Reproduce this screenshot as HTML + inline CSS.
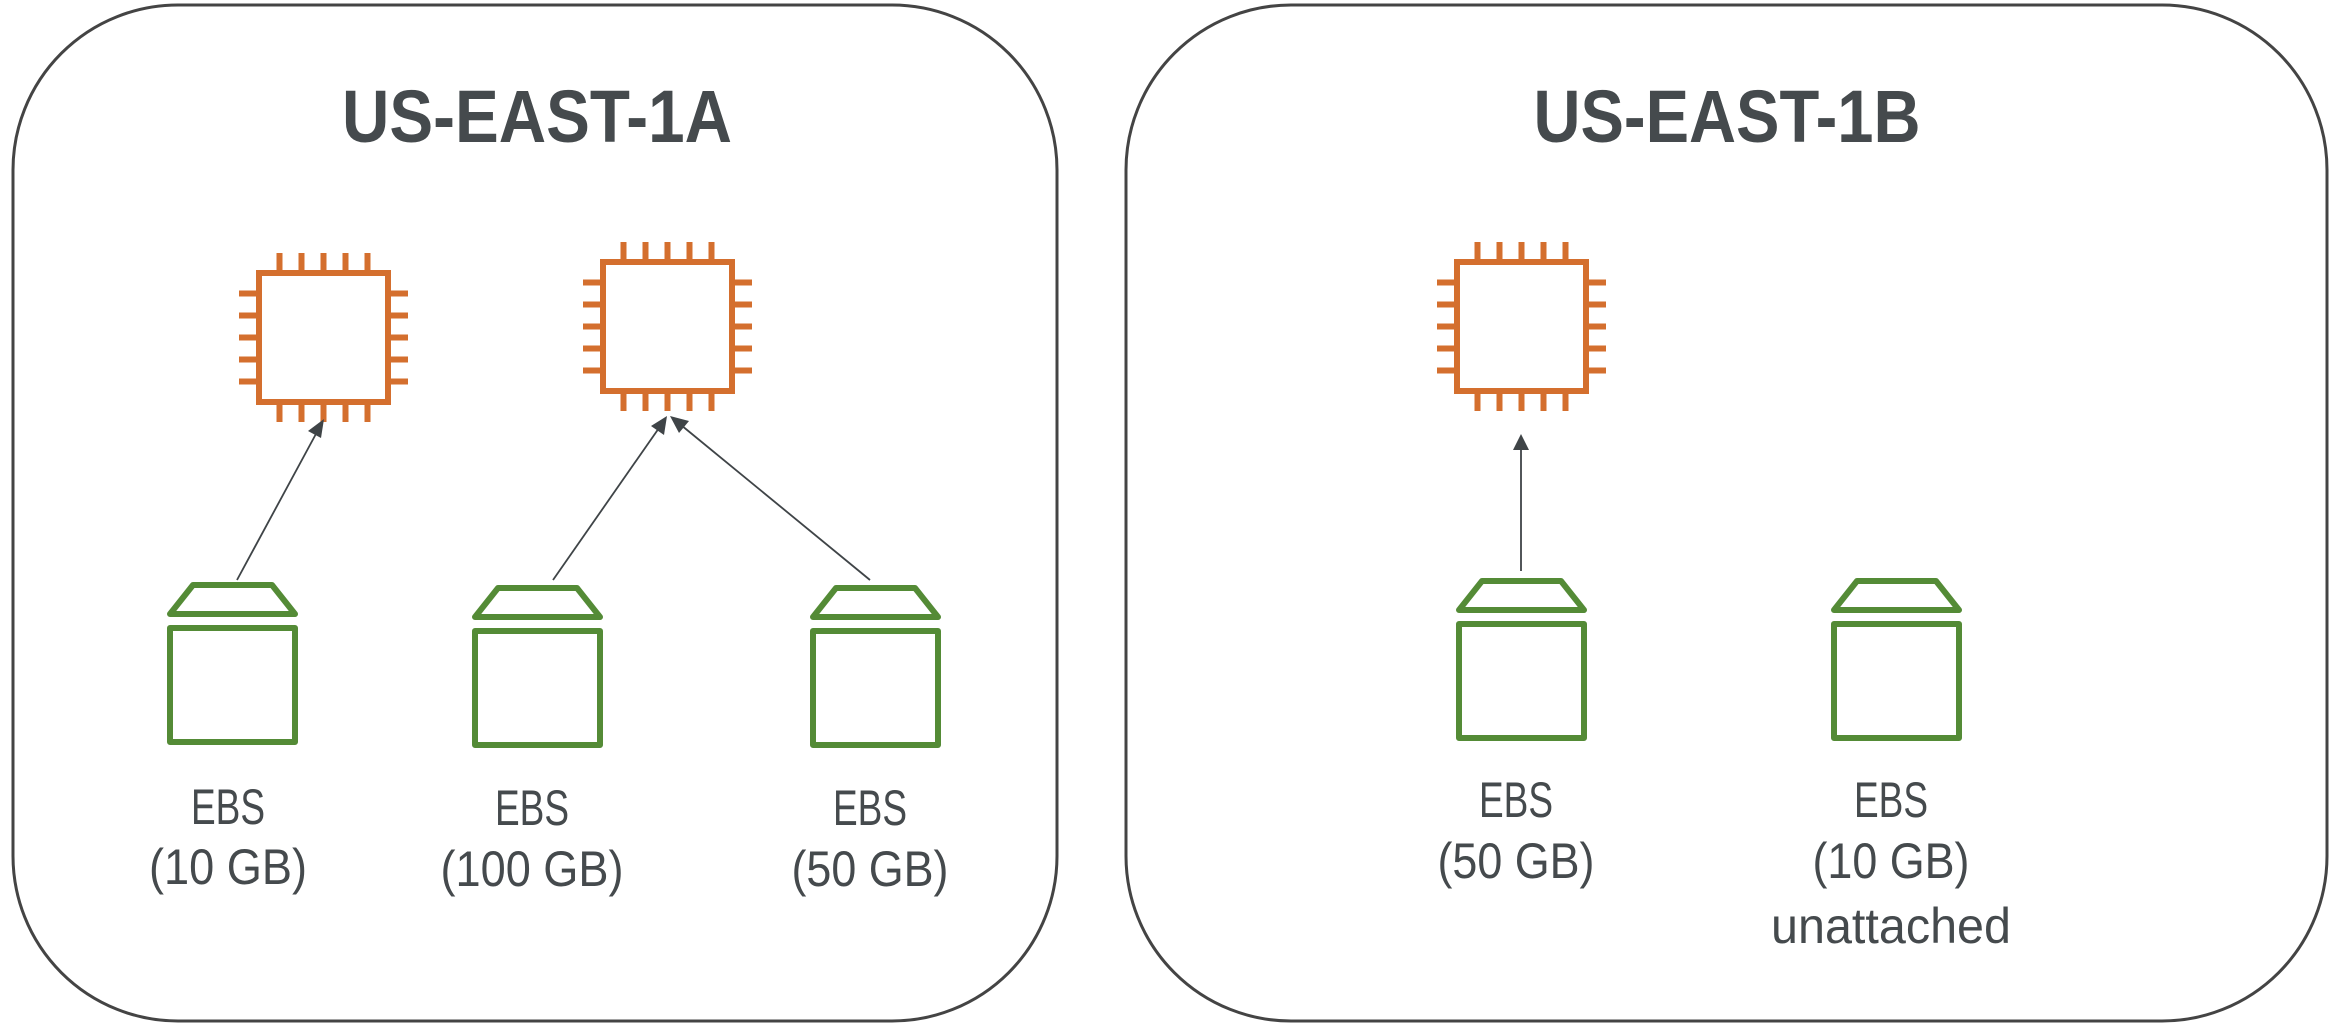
<!DOCTYPE html>
<html><head><meta charset="utf-8"><style>
html,body{margin:0;padding:0;background:#fff;}
svg{display:block;}
text{font-family:"Liberation Sans",sans-serif;fill:#454a4d;}
</style></head><body>
<svg width="2340" height="1030" viewBox="0 0 2340 1030" xmlns="http://www.w3.org/2000/svg">
<defs>
<g id="chip">
  <rect x="3" y="3" width="129" height="129" fill="none" stroke="#d46f2e" stroke-width="6"/>
  <g fill="#d46f2e">
    <rect x="20.5" y="-17" width="6" height="17"/><rect x="42.5" y="-17" width="6" height="17"/><rect x="64.5" y="-17" width="6" height="17"/><rect x="86.5" y="-17" width="6" height="17"/><rect x="108.5" y="-17" width="6" height="17"/>
    <rect x="20.5" y="135" width="6" height="17"/><rect x="42.5" y="135" width="6" height="17"/><rect x="64.5" y="135" width="6" height="17"/><rect x="86.5" y="135" width="6" height="17"/><rect x="108.5" y="135" width="6" height="17"/>
    <rect x="-17" y="20.5" width="17" height="6"/><rect x="-17" y="42.5" width="17" height="6"/><rect x="-17" y="64.5" width="17" height="6"/><rect x="-17" y="86.5" width="17" height="6"/><rect x="-17" y="108.5" width="17" height="6"/>
    <rect x="135" y="20.5" width="17" height="6"/><rect x="135" y="42.5" width="17" height="6"/><rect x="135" y="64.5" width="17" height="6"/><rect x="135" y="86.5" width="17" height="6"/><rect x="135" y="108.5" width="17" height="6"/>
  </g>
</g>
<g id="ebs" fill="none" stroke="#548b36" stroke-width="6" stroke-linejoin="round">
  <polygon points="26,3 105,3 128,32 3,32"/>
  <rect x="3" y="46" width="125" height="114"/>
</g>
</defs>

<rect x="13" y="5" width="1044" height="1016" rx="165" ry="165" fill="none" stroke="#444" stroke-width="3"/>
<rect x="1126" y="5" width="1201" height="1016" rx="165" ry="165" fill="none" stroke="#444" stroke-width="3"/>

<text x="537" y="142" font-size="74" font-weight="bold" text-anchor="middle" textLength="390" lengthAdjust="spacingAndGlyphs">US-EAST-1A</text>
<text x="1727" y="142" font-size="74" font-weight="bold" text-anchor="middle" textLength="387" lengthAdjust="spacingAndGlyphs">US-EAST-1B</text>

<use href="#chip" x="256" y="270"/>
<use href="#chip" x="600" y="259"/>
<use href="#chip" x="1454" y="259"/>

<use href="#ebs" x="167" y="582"/>
<use href="#ebs" x="472" y="585"/>
<use href="#ebs" x="810" y="585"/>
<use href="#ebs" x="1456" y="578"/>
<use href="#ebs" x="1831" y="578"/>

<g stroke="#3f4447" stroke-width="1.8">
  <line x1="237" y1="580" x2="317" y2="432"/>
  <line x1="553" y1="580" x2="659" y2="428"/>
  <line x1="870" y1="580" x2="681" y2="425"/>
  <line x1="1521" y1="571" x2="1521" y2="448"/>
</g>
<g fill="#3f4447">
  <polygon points="324,419 321,438 308,431"/>
  <polygon points="667,416 664,435 651,426"/>
  <polygon points="670,416 689,421 679,433"/>
  <polygon points="1521,434 1529,450 1513,450"/>
</g>

<g font-size="50" text-anchor="middle">
  <text x="228" y="824" textLength="74" lengthAdjust="spacingAndGlyphs">EBS</text>
  <text x="228" y="884" textLength="158" lengthAdjust="spacingAndGlyphs">(10 GB)</text>
  <text x="532" y="825" textLength="74" lengthAdjust="spacingAndGlyphs">EBS</text>
  <text x="532" y="886" textLength="183" lengthAdjust="spacingAndGlyphs">(100 GB)</text>
  <text x="870" y="825" textLength="74" lengthAdjust="spacingAndGlyphs">EBS</text>
  <text x="870" y="886" textLength="157" lengthAdjust="spacingAndGlyphs">(50 GB)</text>
  <text x="1516" y="817" textLength="74" lengthAdjust="spacingAndGlyphs">EBS</text>
  <text x="1516" y="878" textLength="157" lengthAdjust="spacingAndGlyphs">(50 GB)</text>
  <text x="1891" y="817" textLength="74" lengthAdjust="spacingAndGlyphs">EBS</text>
  <text x="1891" y="878" textLength="157" lengthAdjust="spacingAndGlyphs">(10 GB)</text>
  <text x="1891" y="943" textLength="240" lengthAdjust="spacingAndGlyphs">unattached</text>
</g>
</svg>
</body></html>
